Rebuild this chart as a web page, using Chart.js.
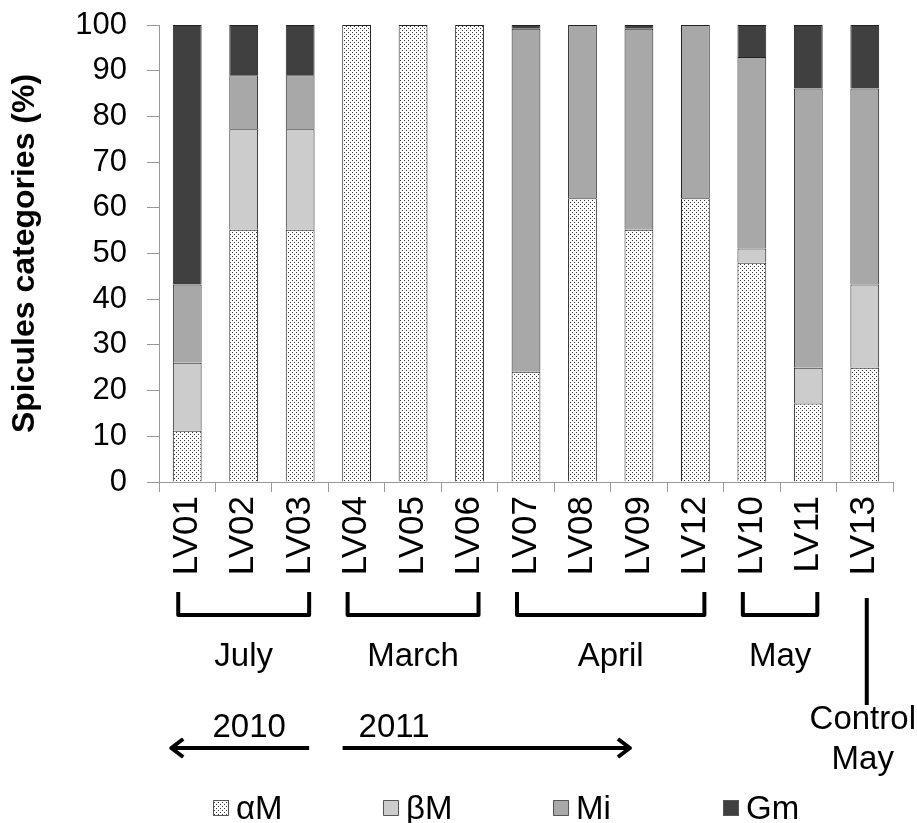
<!DOCTYPE html>
<html>
<head>
<meta charset="utf-8">
<script src="https://cdn.jsdelivr.net/npm/chart.js@4"></script>
<style>
  body { margin: 0; background: #fff; }
  #wrap { width: 917px; height: 823px; }
</style>
</head>
<body>
<div id="wrap"><canvas id="spicules"></canvas></div>
<script>
const samples = ['LV01', 'LV02', 'LV03', 'LV04', 'LV05', 'LV06', 'LV07', 'LV08', 'LV09', 'LV12', 'LV10', 'LV11', 'LV13'];
const alphaM = [11.2, 55.2, 55.2, 100, 100, 100, 24.1, 62.1, 55.2, 62.1, 48.0, 17.2, 25.0];
const betaM  = [14.9, 22.0, 22.0, 0, 0, 0, 0, 0, 0, 0, 3.1, 7.8, 18.2];
const mi     = [17.1, 11.8, 11.8, 0, 0, 0, 75.1, 37.9, 44.0, 37.9, 41.9, 61.1, 42.9];
const gm     = [56.8, 11.0, 11.0, 0, 0, 0, 0.8, 0, 0.8, 0, 7.0, 13.9, 13.9];

const months = ['July', 'March', 'April', 'May'];
const monthFirst = [0, 3, 6, 10];
const monthLast = [2, 5, 9, 11];

const FONT = "'Liberation Sans', Arial, sans-serif";

// stipple fill for the αM category
function dots() {
  const c = document.createElement('canvas');
  c.width = 4; c.height = 4;
  const g = c.getContext('2d');
  g.fillStyle = '#fff';
  g.fillRect(0, 0, 4, 4);
  g.fillStyle = '#333';
  g.fillRect(0, 0, 1, 1);
  g.fillRect(2, 2, 1, 1);
  return g.createPattern(c, 'repeat');
}
const stipple = dots();

const series = [
  { label: 'αM', data: alphaM, fill: stipple },
  { label: 'βM', data: betaM, fill: '#cccccc' },
  { label: 'Mi', data: mi, fill: '#a8a8a8' },
  { label: 'Gm', data: gm, fill: '#404040' }
];

const extras = {
  id: 'extras',
  afterDraw(chart) {
    const ctx = chart.ctx;
    const x = chart.scales.x;
    const base = chart.chartArea.bottom;
    const px = i => x.getPixelForValue(i);
    ctx.save();
    ctx.strokeStyle = '#000';
    ctx.fillStyle = '#000';
    ctx.lineWidth = 4;
    ctx.lineJoin = 'round';
    ctx.lineCap = 'butt';

    // month brackets
    ctx.font = '33px ' + FONT;
    ctx.textAlign = 'center';
    ctx.textBaseline = 'alphabetic';
    months.forEach((m, k) => {
      const l = px(monthFirst[k]) - 9;
      const r = px(monthLast[k]) + 9;
      ctx.beginPath();
      ctx.moveTo(l, base + 110);
      ctx.lineTo(l, base + 133);
      ctx.lineTo(r, base + 133);
      ctx.lineTo(r, base + 110);
      ctx.stroke();
      ctx.fillText(m, (l + r) / 2, base + 184);
    });

    // control line
    const cx = px(12) + 2;
    ctx.beginPath();
    ctx.moveTo(cx, base + 116);
    ctx.lineTo(cx, base + 223);
    ctx.stroke();
    ctx.fillText('Control', cx - 4, base + 247);
    ctx.fillText('May', cx - 4, base + 287);

    // year arrows
    const ay = base + 266;
    const head = (xt, dir) => {
      ctx.beginPath();
      ctx.moveTo(xt - dir * 12, ay - 9);
      ctx.lineTo(xt, ay);
      ctx.lineTo(xt - dir * 12, ay + 9);
      ctx.stroke();
    };
    const l1 = px(0) - 16, r1 = px(2) + 9;
    ctx.beginPath(); ctx.moveTo(l1, ay); ctx.lineTo(r1, ay); ctx.stroke();
    head(l1, -1);
    const l2 = px(3) - 14, r2 = px(8) - 9;
    ctx.beginPath(); ctx.moveTo(l2, ay); ctx.lineTo(r2, ay); ctx.stroke();
    head(r2, 1);
    ctx.fillText('2010', (l1 + r1) / 2 + 9, base + 255);
    ctx.textAlign = 'left';
    ctx.fillText('2011', l2 + 16, base + 255);

    // legend
    ctx.font = '33px ' + FONT;
    ctx.textBaseline = 'middle';
    ctx.lineWidth = 1;
    ctx.strokeStyle = '#555';
    series.forEach((s, k) => {
      const lx = 213 + k * 170;
      const ly = base + 326;
      ctx.fillStyle = s.fill;
      ctx.fillRect(lx, ly - 8, 16, 16);
      ctx.strokeRect(lx + 0.5, ly - 7.5, 15, 15);
      ctx.fillStyle = '#000';
      ctx.fillText(s.label, lx + 23, ly + 2);
    });
    ctx.restore();
  }
};

new Chart(document.getElementById('spicules'), {
  type: 'bar',
  data: {
    labels: samples,
    datasets: series.map(s => ({
      label: s.label,
      data: s.data,
      backgroundColor: s.fill,
      borderColor: '#222',
      borderWidth: 1,
      categoryPercentage: 1,
      barPercentage: 0.51
    }))
  },
  options: {
    responsive: true,
    maintainAspectRatio: false,
    animation: false,
    layout: { padding: { top: 25, right: 24, left: 0, bottom: 0 } },
    plugins: {
      legend: { display: false },
      tooltip: { enabled: false }
    },
    scales: {
      x: {
        stacked: true,
        grid: { drawOnChartArea: false, tickLength: 10, color: '#999' },
        border: { color: '#999' },
        ticks: {
          color: '#000',
          font: { family: FONT, size: 35 },
          minRotation: 90,
          maxRotation: 90,
          padding: 4
        },
        afterFit(scale) {
          scale.height = 341;
          scale.paddingLeft = 0;
          scale.paddingRight = 0;
        }
      },
      y: {
        stacked: true,
        min: 0,
        max: 100,
        grid: { drawOnChartArea: false, tickLength: 12, color: '#999' },
        border: { color: '#999' },
        ticks: {
          stepSize: 10,
          color: '#000',
          font: { family: FONT, size: 31 },
          padding: 20
        },
        title: {
          display: true,
          text: 'Spicules categories (%)',
          color: '#000',
          font: { family: FONT, size: 32, weight: 'bold' },
          padding: { top: 6, bottom: 4 }
        },
        afterFit(scale) {
          scale.width = 159;
          scale.paddingTop = 0;
          scale.paddingBottom = 0;
        }
      }
    }
  },
  plugins: [extras]
});
</script>
</body>
</html>
